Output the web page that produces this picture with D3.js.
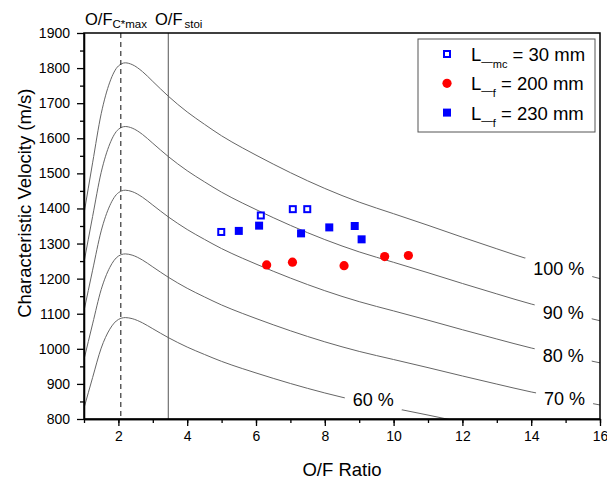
<!DOCTYPE html>
<html>
<head>
<meta charset="utf-8">
<script src="https://cdn.jsdelivr.net/npm/d3@7"></script>
<style>
  body { margin: 0; background: #fff; }
  svg { font-family: "Liberation Sans", Arial, sans-serif; }
  .axis path, .axis line { stroke: #000; stroke-width: 1.3; }
  .axis text { font-size: 14px; fill: #000; }
</style>
</head>
<body>
<script>
// theoretical c* (100 %)
var ofRatio = [1.0, 1.25, 1.5, 1.75, 2.0, 2.2, 2.4, 2.7, 3.0, 3.45, 4.0, 4.5, 5.0, 5.6, 6.0,
               7.0, 8.0, 9.0, 10.0, 11.0, 12.0, 13.0, 14.0, 15.0, 16.0];
var cstarTheo = [1385, 1530, 1670, 1760, 1806, 1815, 1810, 1790, 1762, 1720, 1675, 1640, 1607, 1573, 1552,
                 1502, 1457, 1418, 1385, 1352, 1318, 1285, 1253, 1226, 1200];

// efficiency curves and where their labels sit
var efficiency = [100, 90, 80, 70, 60];
var labelOF = [14.8, 14.93, 14.93, 14.97, 9.41];
var labelCstar = [1228, 1104, 979, 859, 856];

// measured points
var mc30OF = [4.99, 6.14, 7.07, 7.49];
var mc30Cstar = [1333, 1380, 1398, 1398];
var f200OF = [6.31, 7.06, 8.56, 9.74, 10.43];
var f200Cstar = [1239, 1247, 1237, 1263, 1266];
var f230OF = [5.50, 6.09, 7.31, 8.13, 8.87, 9.07];
var f230Cstar = [1336, 1351, 1329, 1346, 1350, 1312];

var ofCstarMax = 2.07, ofStoi = 3.45;

var xTicks = [2, 4, 6, 8, 10, 12, 14, 16];
var yTicks = d3.range(800, 1901, 100);

var width = 607, height = 480;
var margin = { top: 33, right: 7, bottom: 61, left: 84 };

var svg = d3.select("body").append("svg")
    .attr("width", width)
    .attr("height", height);

var x = d3.scaleLinear().domain([1, 16]).range([margin.left, width - margin.right]);
var y = d3.scaleLinear().domain([800, 1900]).range([height - margin.bottom, margin.top]);

svg.append("defs").append("clipPath").attr("id", "plotclip")
    .append("rect")
    .attr("x", x(1)).attr("y", y(1900))
    .attr("width", x(16) - x(1)).attr("height", y(800) - y(1900));

var plot = svg.append("g").attr("clip-path", "url(#plotclip)");

// efficiency curves
var line = d3.line()
    .x(function(d) { return x(d[0]); })
    .y(function(d) { return y(d[1]); })
    .curve(d3.curveMonotoneX);

efficiency.forEach(function(e) {
    var pts = ofRatio.map(function(o, i) { return [o, cstarTheo[i] * e / 100]; });
    plot.append("path")
        .datum(pts)
        .attr("fill", "none")
        .attr("stroke", "#666")
        .attr("stroke-width", 1)
        .attr("d", line);
});

// vertical reference lines
plot.append("line")
    .attr("x1", x(ofCstarMax)).attr("x2", x(ofCstarMax))
    .attr("y1", y(1900)).attr("y2", y(800))
    .attr("stroke", "#222").attr("stroke-width", 1.1)
    .attr("stroke-dasharray", "5,4");
plot.append("line")
    .attr("x1", x(ofStoi)).attr("x2", x(ofStoi))
    .attr("y1", y(1900)).attr("y2", y(800))
    .attr("stroke", "#555").attr("stroke-width", 1);

// curve labels (white box hides the line under the text)
efficiency.forEach(function(e, i) {
    var g = svg.append("g")
        .attr("transform", "translate(" + x(labelOF[i]) + "," + y(labelCstar[i]) + ")");
    var t = g.append("text")
        .attr("text-anchor", "middle")
        .attr("dy", "0.35em")
        .attr("font-size", 18)
        .text(e + " %");
    var w = t.node().getComputedTextLength();
    g.insert("rect", "text")
        .attr("x", -w / 2 - 8).attr("y", -11)
        .attr("width", w + 16).attr("height", 22)
        .attr("fill", "#fff");
});

// data points
var ms = 8;
plot.selectAll(".mc30").data(mc30OF).enter().append("rect")
    .attr("x", function(d) { return x(d) - ms / 2 + 1; })
    .attr("y", function(d, i) { return y(mc30Cstar[i]) - ms / 2 + 1; })
    .attr("width", ms - 2).attr("height", ms - 2)
    .attr("fill", "#fff").attr("stroke", "#0000ff").attr("stroke-width", 2);

plot.selectAll(".f200").data(f200OF).enter().append("circle")
    .attr("cx", function(d) { return x(d); })
    .attr("cy", function(d, i) { return y(f200Cstar[i]); })
    .attr("r", 4.6)
    .attr("fill", "#ff0000");

plot.selectAll(".f230").data(f230OF).enter().append("rect")
    .attr("x", function(d) { return x(d) - ms / 2; })
    .attr("y", function(d, i) { return y(f230Cstar[i]) - ms / 2; })
    .attr("width", ms).attr("height", ms)
    .attr("fill", "#0000ff");

// axes
svg.append("g")
    .attr("class", "axis")
    .attr("transform", "translate(0," + y(800) + ")")
    .call(d3.axisBottom(x).tickValues(d3.range(1, 17)).tickSize(4).tickSizeOuter(0).tickFormat(""));
svg.append("g")
    .attr("class", "axis")
    .attr("transform", "translate(0," + y(800) + ")")
    .call(d3.axisBottom(x).tickValues(xTicks).tickSize(7).tickSizeOuter(0).tickPadding(5).tickFormat(d3.format("d")));

svg.append("g")
    .attr("class", "axis")
    .attr("transform", "translate(" + x(1) + ",0)")
    .call(d3.axisLeft(y).tickValues(d3.range(850, 1900, 100)).tickSize(4).tickSizeOuter(0).tickFormat(""));
svg.append("g")
    .attr("class", "axis")
    .attr("transform", "translate(" + x(1) + ",0)")
    .call(d3.axisLeft(y).tickValues(yTicks).tickSize(7).tickSizeOuter(0).tickPadding(7).tickFormat(d3.format("d")));

// frame
svg.append("rect")
    .attr("x", x(1)).attr("y", y(1900))
    .attr("width", x(16) - x(1)).attr("height", y(800) - y(1900))
    .attr("fill", "none").attr("stroke", "#000").attr("stroke-width", 1.5);

// axis titles
svg.append("text")
    .attr("x", (x(1) + x(16)) / 2)
    .attr("y", 476)
    .attr("text-anchor", "middle")
    .attr("font-size", 18.5)
    .text("O/F Ratio");

svg.append("text")
    .attr("transform", "translate(31," + y(1415) + ") rotate(-90)")
    .attr("text-anchor", "middle")
    .attr("font-size", 18.5)
    .text("Characteristic Velocity (m/s)");

// O/F markers above the plot
var ofLabel = svg.append("text").attr("x", 85).attr("y", 25).attr("font-size", 16.5);
ofLabel.append("tspan").text("O/F");
ofLabel.append("tspan").attr("font-size", 11.5).attr("dy", 3).text("C*max");
ofLabel.append("tspan").attr("x", 155).attr("dy", -3).text("O/F");
ofLabel.append("tspan").attr("font-size", 11.5).attr("dy", 3).attr("dx", 2).text("stoi");

// legend
var legend = svg.append("g");
legend.append("rect")
    .attr("x", 418).attr("y", 39)
    .attr("width", 177).attr("height", 93)
    .attr("fill", "#fff").attr("stroke", "#555").attr("stroke-width", 1);

var legendRows = [
    { sub: "mc", rest: " = 30 mm", kind: "hollow" },
    { sub: "f", rest: " = 200 mm", kind: "circle" },
    { sub: "f", rest: " = 230 mm", kind: "square" }
];

legendRows.forEach(function(r, i) {
    var cy = 54 + i * 29.3, cx = 447;
    if (r.kind === "hollow") {
        legend.append("rect").attr("x", cx - 3).attr("y", cy - 3).attr("width", 6).attr("height", 6)
            .attr("fill", "#fff").attr("stroke", "#0000ff").attr("stroke-width", 2);
    } else if (r.kind === "circle") {
        legend.append("circle").attr("cx", cx).attr("cy", cy).attr("r", 4.6).attr("fill", "#ff0000");
    } else {
        legend.append("rect").attr("x", cx - 4).attr("y", cy - 4).attr("width", 8).attr("height", 8)
            .attr("fill", "#0000ff");
    }
    var t = legend.append("text").attr("x", 471).attr("y", cy + 7).attr("font-size", 18.5);
    t.append("tspan").text("L");
    t.append("tspan").attr("font-size", 11.5).attr("dy", 4).text("\u2014");
    t.append("tspan").attr("font-size", 11).attr("dy", 3).text(r.sub);
    t.append("tspan").attr("dy", -7).text(r.rest);
});
</script>
</body>
</html>
